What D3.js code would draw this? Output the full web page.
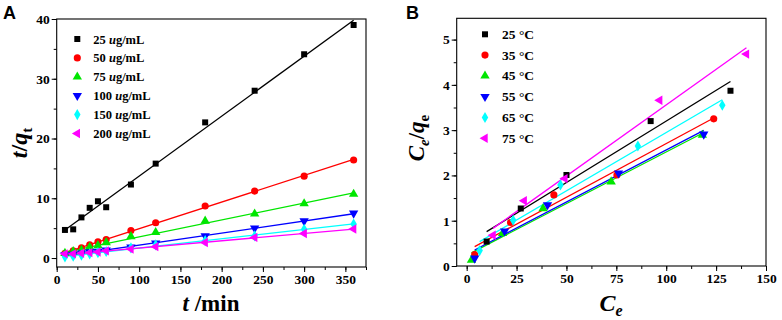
<!DOCTYPE html>
<html><head><meta charset="utf-8">
<script src="https://cdn.jsdelivr.net/npm/d3@7"></script>
<style>
body{margin:0;background:#fff;}
svg{display:block;font-family:"Liberation Serif","Times New Roman",serif;}
.tick text{font-family:"Liberation Serif","Times New Roman",serif !important;}
</style></head>
<body><svg id="c" width="782" height="320"></svg>
<script>
// ---------- Panel A data ----------
const timeA = [10,20,30,40,50,60,90,120,180,240,300,360];
const a25  = [4.7,4.8,6.8,8.4,9.5,8.5,12.3,15.8,22.7,28.0,34.1,39.0];
const a50  = [0.8,1.2,1.7,2.2,2.7,3.1,4.6,5.9,8.7,11.2,13.7,16.4];
const a75  = [0.8,1.1,1.3,1.8,2.1,2.6,3.6,4.3,6.2,7.4,9.1,10.7];
const a100 = [0.5,0.6,0.8,1.0,1.1,1.3,1.8,2.5,3.7,5.0,6.2,7.5];
const a150 = [0.2,0.3,0.5,0.7,0.9,1.1,1.7,2.2,2.9,3.7,4.8,5.7];
const a200 = [0.7,0.7,0.8,0.9,1.0,1.2,1.5,1.9,2.6,3.45,4.1,4.85];
const labelsA = ["25","50","75","100","150","200"];
const xTicksA = [0,50,100,150,200,250,300,350];
const yTicksA = [0,10,20,30,40];

// ---------- Panel B data ----------
const labelsB = ["25 °C","35 °C","45 °C","55 °C","65 °C","75 °C"];
const b25ce = [10,27.1,50,92.2,132.2];   const b25q = [0.54,1.27,2.01,3.2,3.87];
const b35ce = [4,22,43.7,75.3,123.8];    const b35q = [0.25,0.96,1.57,2.01,3.25];
const b45ce = [2.4,18,38.3,72.4,118.1];  const b45q = [0.13,0.72,1.27,1.86,2.89];
const b55ce = [4,19,40.5,76.1,118.8];    const b55q = [0.17,0.77,1.35,2.05,2.91];
const b65ce = [6.5,23.3,47,85.8,128.1];  const b65q = [0.34,1.01,1.79,2.65,3.55];
const b75ce = [13.2,28.8,49.2,96.7,140.2]; const b75q = [0.68,1.44,1.93,3.66,4.68];
const xTicksB = [0,25,50,75,100,125,150];
const yTicksB = [0,1,2,3,4,5];

const colors = ["#000000","#ff0000","#00e600","#0000ff","#00ffff","#ff00ff"];
const shapes = [
  {t:d3.symbolSquare, r:0, s:36},
  {t:d3.symbolCircle, r:0, s:40},
  {t:d3.symbolTriangle, r:0, s:38},
  {t:d3.symbolTriangle, r:180, s:38},
  {t:d3.symbolDiamond, r:0, s:36},
  {t:d3.symbolTriangle, r:-90, s:38}
];

function linreg(xs, ys){
  const n = xs.length, mx = d3.mean(xs), my = d3.mean(ys);
  let sxy=0, sxx=0;
  for(let i=0;i<n;i++){ sxy+=(xs[i]-mx)*(ys[i]-my); sxx+=(xs[i]-mx)**2; }
  const b = sxy/sxx; return {b, a: my-b*mx};
}

const svg = d3.select("#c");
const SERIF = "'Liberation Serif','Times New Roman',serif";

function panel(cfg){
  const g = svg.append("g");
  const x = d3.scaleLinear(cfg.xd, cfg.xr);
  const y = d3.scaleLinear(cfg.yd, cfg.yr);
  const ax = g.append("g").attr("transform",`translate(0,${cfg.yr[0]})`)
    .call(d3.axisBottom(x).tickValues(cfg.xMinor).tickSize(3).tickFormat(""));
  const ax2 = g.append("g").attr("transform",`translate(0,${cfg.yr[0]})`)
    .call(d3.axisBottom(x).tickValues(cfg.xTicks).tickSize(5).tickPadding(2).tickFormat(d3.format("d")));
  const ay = g.append("g").attr("transform",`translate(${cfg.xr[0]},0)`)
    .call(d3.axisLeft(y).tickValues(cfg.yMinor).tickSize(3).tickFormat(""));
  const ay2 = g.append("g").attr("transform",`translate(${cfg.xr[0]},0)`)
    .call(d3.axisLeft(y).tickValues(cfg.yTicks).tickSize(5).tickPadding(2).tickFormat(d3.format("d")));
  [ax,ax2,ay,ay2].forEach(a=>{
    a.attr("font-family",SERIF).attr("font-size",13.5);
    a.select(".domain").remove();
    a.selectAll("line").attr("stroke","#000").attr("stroke-width",1);
    a.selectAll("text").attr("font-weight","bold").attr("fill","#000");
  });
  g.append("rect").attr("x",cfg.xr[0]).attr("y",cfg.yr[1])
    .attr("width",cfg.xr[1]-cfg.xr[0]).attr("height",cfg.yr[0]-cfg.yr[1])
    .attr("fill","none").attr("stroke","#000").attr("stroke-width",1.1);
  cfg.series.forEach((s,i)=>{
    const fit = linreg(s.x, s.y);
    const x0 = d3.min(s.x), x1 = d3.max(s.x);
    g.append("line").attr("x1",x(x0)).attr("y1",y(fit.a+fit.b*x0))
      .attr("x2",x(x1)).attr("y2",y(fit.a+fit.b*x1))
      .attr("stroke",colors[i]).attr("stroke-width",1.3);
  });
  cfg.series.forEach((s,i)=>{
    const sh = shapes[i];
    g.append("g").selectAll("path").data(s.x.map((v,j)=>[v,s.y[j]])).join("path")
      .attr("d", d3.symbol().type(sh.t).size(sh.s))
      .attr("transform", d=>`translate(${x(d[0])},${y(d[1])}) rotate(${sh.r})`)
      .attr("fill",colors[i]);
  });
  cfg.legend.forEach((lab,i)=>{
    const sh = shapes[i];
    const yy = cfg.legY + i*cfg.legDy;
    g.append("path").attr("d", d3.symbol().type(sh.t).size(sh.s))
      .attr("transform",`translate(${cfg.legX},${yy}) rotate(${sh.r})`).attr("fill",colors[i]);
    const t = g.append("text").attr("x",cfg.legX+cfg.legTx).attr("y",yy+4.5)
      .attr("font-family",SERIF).attr("font-weight","bold").attr("font-size",cfg.legFs).attr("fill","#000");
    cfg.legendText(t, lab);
  });
  return {x,y,g};
}

panel({
  xd:[0,375], xr:[56.7,366], yd:[-1.5,40], yr:[267,19],
  xTicks:xTicksA, xMinor:d3.range(0,376,25), yTicks:yTicksA, yMinor:d3.range(0,41,5),
  series:[a25,a50,a75,a100,a150,a200].map(v=>({x:timeA,y:v})),
  legend:labelsA, legX:77.3, legY:39, legDy:18.9, legTx:16, legFs:12.5,
  legendText:(t,lab)=>{ t.append("tspan").text(lab+" ");
    t.append("tspan").attr("font-style","italic").text("u");
    t.append("tspan").text("g/mL"); }
});

panel({
  xd:[-5,150], xr:[456.7,766], yd:[0,5.47], yr:[266,18.3],
  xTicks:xTicksB, xMinor:d3.range(0,151,12.5), yTicks:yTicksB, yMinor:d3.range(0,5.01,0.5),
  series:[[b25ce,b25q],[b35ce,b35q],[b45ce,b45q],[b55ce,b55q],[b65ce,b65q],[b75ce,b75q]].map(v=>({x:v[0],y:v[1]})),
  legend:labelsB, legX:485, legY:34.3, legDy:20.8, legTx:17, legFs:13.5,
  legendText:(t,lab)=>{ t.text(lab); }
});

svg.append("text").attr("x",3).attr("y",19).attr("font-family","'Liberation Sans',Arial,sans-serif")
  .attr("font-weight","bold").attr("font-size",18).text("A");
svg.append("text").attr("x",406).attr("y",19).attr("font-family","'Liberation Sans',Arial,sans-serif")
  .attr("font-weight","bold").attr("font-size",18).text("B");

const xtA = svg.append("text").attr("x",211).attr("y",311).attr("text-anchor","middle")
  .attr("font-family",SERIF).attr("font-weight","bold").attr("font-size",23);
xtA.append("tspan").attr("font-style","italic").text("t");
xtA.append("tspan").text(" /min");
const ytA = svg.append("text").attr("transform","translate(27,143) rotate(-90)").attr("text-anchor","middle")
  .attr("font-family",SERIF).attr("font-weight","bold").attr("font-size",24);
ytA.append("tspan").attr("font-style","italic").text("t");
ytA.append("tspan").text("/");
ytA.append("tspan").attr("font-style","italic").text("q");
ytA.append("tspan").attr("font-size",15).attr("dy",5).text("t");

const xtB = svg.append("text").attr("x",611).attr("y",311).attr("text-anchor","middle")
  .attr("font-family",SERIF).attr("font-weight","bold").attr("font-size",24);
xtB.append("tspan").attr("font-style","italic").text("C");
xtB.append("tspan").attr("font-style","italic").attr("font-size",16).attr("dy",5).text("e");
const ytB = svg.append("text").attr("transform","translate(424,138) rotate(-90)").attr("text-anchor","middle")
  .attr("font-family",SERIF).attr("font-weight","bold").attr("font-size",23);
ytB.append("tspan").attr("font-style","italic").text("C");
ytB.append("tspan").attr("font-style","italic").attr("font-size",15).attr("dy",5).text("e");
ytB.append("tspan").attr("dy",-5).text("/");
ytB.append("tspan").attr("font-style","italic").text("q");
ytB.append("tspan").attr("font-size",15).attr("dy",5).text("e");
</script></body></html>
